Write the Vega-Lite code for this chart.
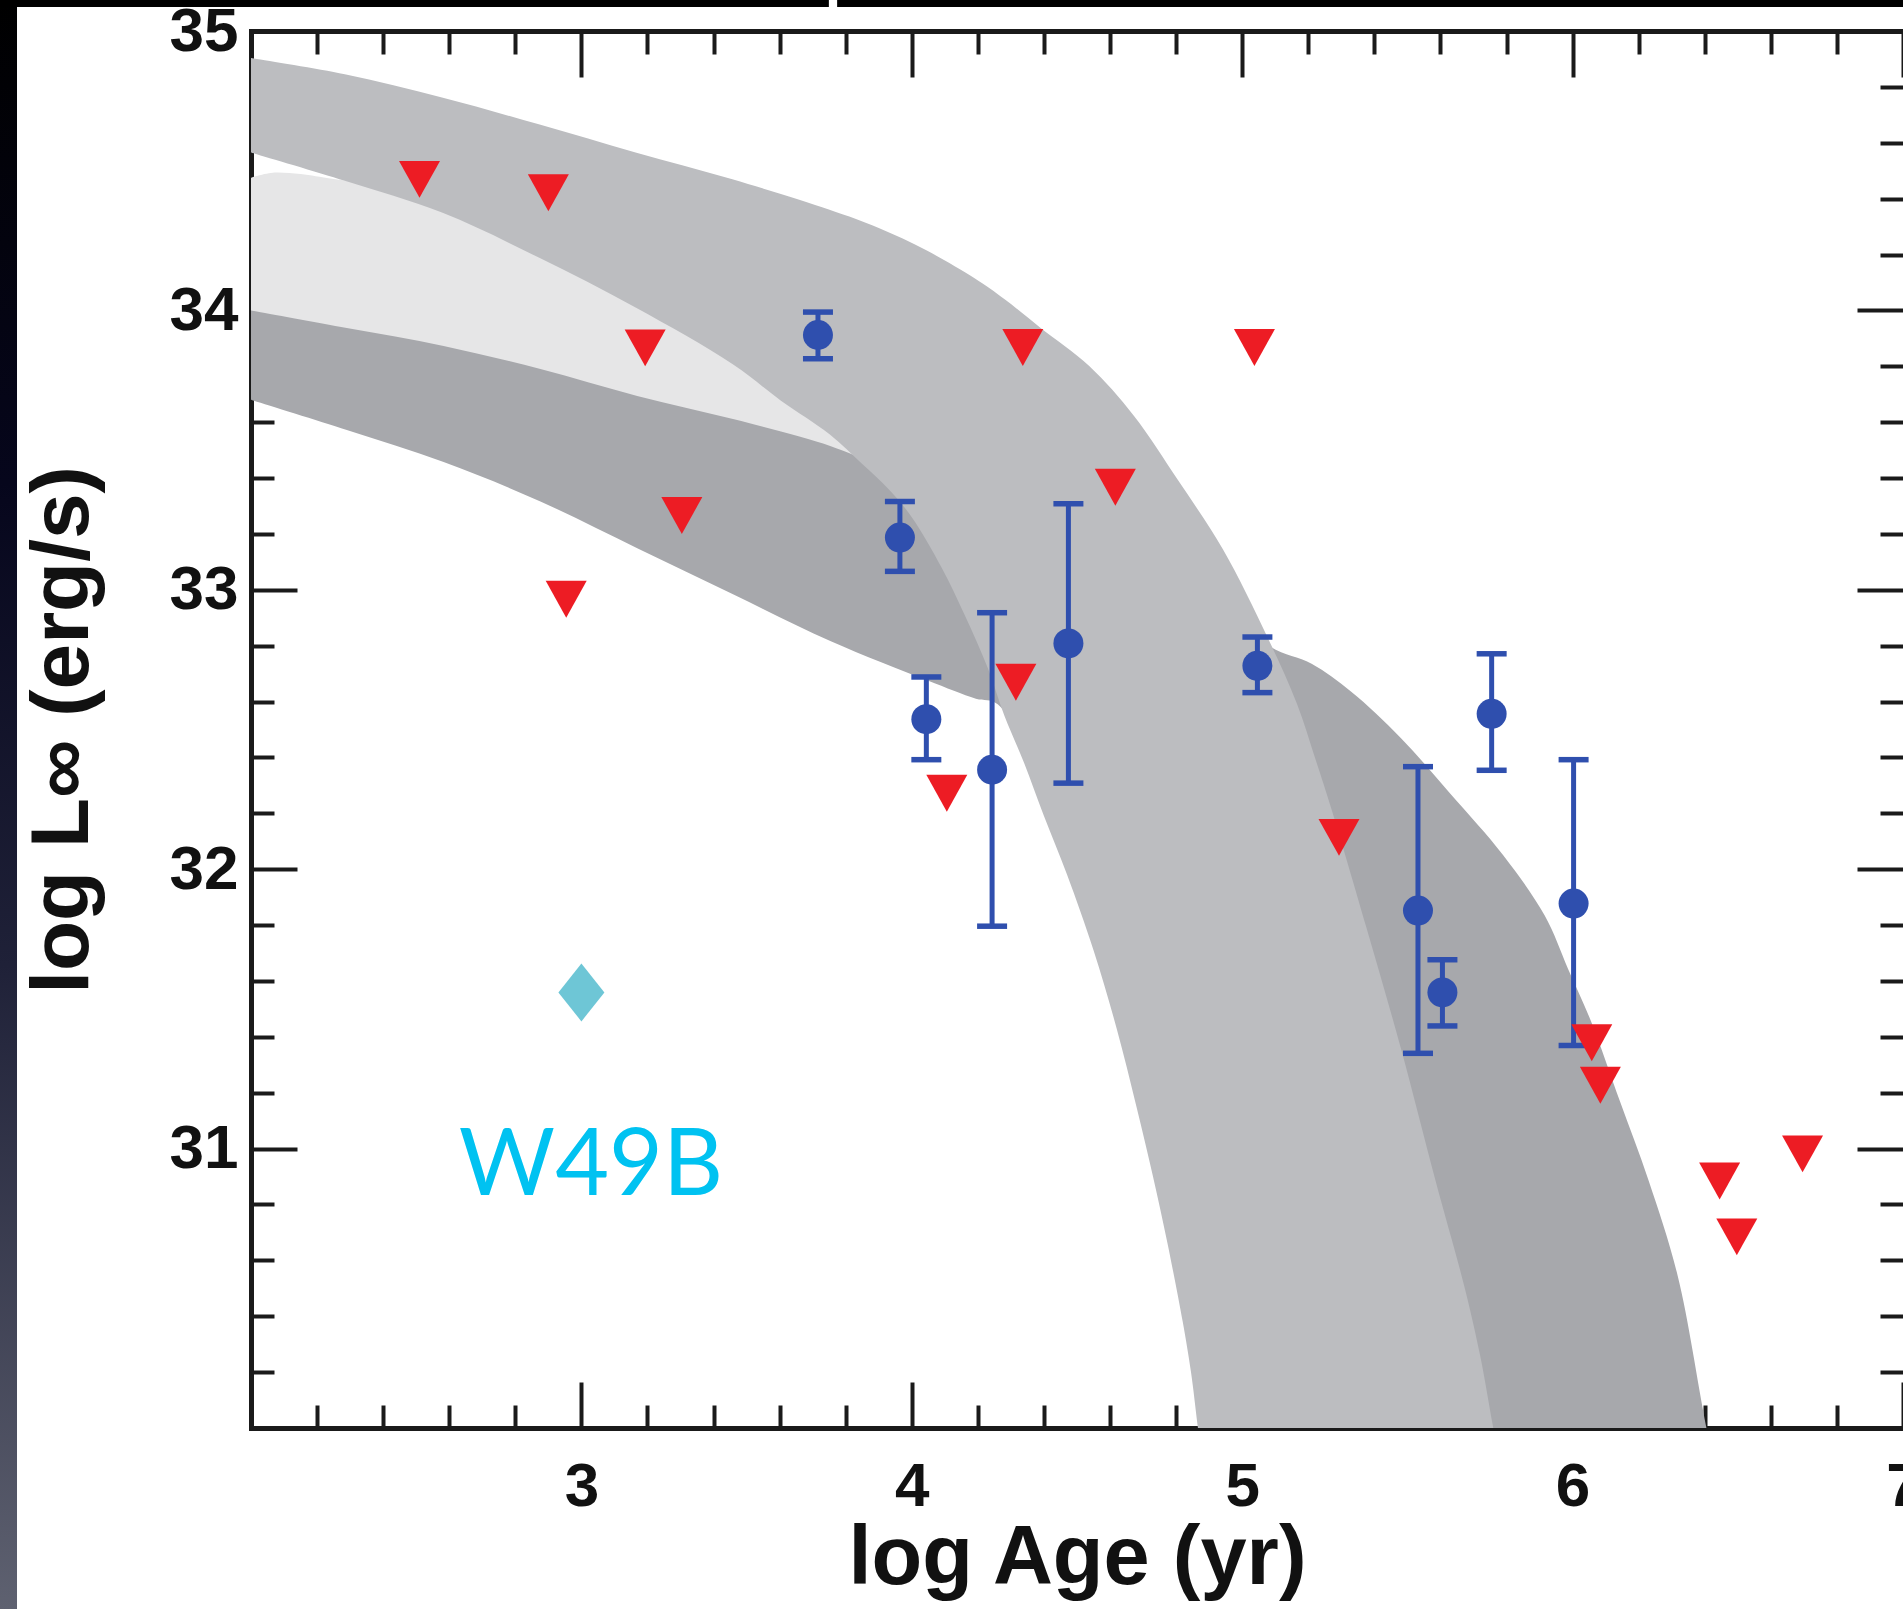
{
  "$schema": "https://vega.github.io/schema/vega-lite/v6.json",
  "width": 1652,
  "height": 1397,
  "autosize": "none",
  "padding": {"left": 251, "top": 31, "right": 0, "bottom": 181},
  "background": "white",
  "config": {
    "view": {"stroke": null},
    "axis": {
      "labelFont": "Liberation Sans", "labelFontWeight": "bold", "labelFontSize": 62, "labelColor": "#111111",
      "titleFont": "Liberation Sans", "titleFontWeight": "bold", "titleFontSize": 82, "titleColor": "#111111",
      "domainColor": "#1a1a1a", "domainWidth": 5, "domainCap": "square",
      "tickColor": "#1a1a1a", "tickWidth": 4, "grid": false,
      "labelFlush": false, "labelOverlap": false, "zindex": 1
    }
  },
  "datasets": {
    "light": [
      {"i": 0, "x": 2.0, "y": 34.475}, {"i": 1, "x": 2.06, "y": 34.492}, {"i": 2, "x": 2.15, "y": 34.488},
      {"i": 3, "x": 2.25, "y": 34.47}, {"i": 4, "x": 2.6, "y": 34.42}, {"i": 5, "x": 3.5, "y": 34.0},
      {"i": 6, "x": 4.0, "y": 33.6}, {"i": 7, "x": 4.1, "y": 33.2}, {"i": 8, "x": 3.95, "y": 33.0},
      {"i": 9, "x": 3.0, "y": 33.5}, {"i": 10, "x": 2.0, "y": 33.85}
    ],
    "dark": [
      {"i": 0, "x": 2.0, "y": 34.0}, {"i": 1, "x": 2.29, "y": 33.937}, {"i": 2, "x": 2.583, "y": 33.873},
      {"i": 3, "x": 2.876, "y": 33.79}, {"i": 4, "x": 3.169, "y": 33.694}, {"i": 5, "x": 3.462, "y": 33.61},
      {"i": 6, "x": 3.755, "y": 33.514}, {"i": 7, "x": 3.86, "y": 33.46}, {"i": 8, "x": 3.92, "y": 33.4},
      {"i": 9, "x": 4.3, "y": 33.3}, {"i": 10, "x": 4.8, "y": 33.1}, {"i": 11, "x": 5.08, "y": 32.8},
      {"i": 12, "x": 5.21, "y": 32.735}, {"i": 13, "x": 5.33, "y": 32.635}, {"i": 14, "x": 5.48, "y": 32.47},
      {"i": 15, "x": 5.63, "y": 32.27}, {"i": 16, "x": 5.79, "y": 32.05}, {"i": 17, "x": 5.916, "y": 31.833},
      {"i": 18, "x": 5.986, "y": 31.644}, {"i": 19, "x": 6.056, "y": 31.455}, {"i": 20, "x": 6.143, "y": 31.17},
      {"i": 21, "x": 6.23, "y": 30.886}, {"i": 22, "x": 6.318, "y": 30.545}, {"i": 23, "x": 6.405, "y": 30.0},
      {"i": 24, "x": 6.49, "y": 29.5}, {"i": 25, "x": 5.35, "y": 29.5}, {"i": 26, "x": 5.1, "y": 30.5},
      {"i": 27, "x": 4.7, "y": 31.5}, {"i": 28, "x": 4.45, "y": 32.15}, {"i": 29, "x": 4.26, "y": 32.59},
      {"i": 30, "x": 4.194, "y": 32.61}, {"i": 31, "x": 4.048, "y": 32.675}, {"i": 32, "x": 3.755, "y": 32.816},
      {"i": 33, "x": 3.462, "y": 32.982}, {"i": 34, "x": 3.169, "y": 33.149}, {"i": 35, "x": 2.876, "y": 33.316},
      {"i": 36, "x": 2.583, "y": 33.457}, {"i": 37, "x": 2.29, "y": 33.572}, {"i": 38, "x": 2.0, "y": 33.68}
    ],
    "medium": [
      {"i": 0, "x": 2.0, "y": 34.903}, {"i": 1, "x": 2.284, "y": 34.845}, {"i": 2, "x": 2.578, "y": 34.762},
      {"i": 3, "x": 2.871, "y": 34.666}, {"i": 4, "x": 3.164, "y": 34.565}, {"i": 5, "x": 3.457, "y": 34.469},
      {"i": 6, "x": 3.751, "y": 34.36}, {"i": 7, "x": 3.9, "y": 34.295}, {"i": 8, "x": 4.044, "y": 34.215},
      {"i": 9, "x": 4.19, "y": 34.115}, {"i": 10, "x": 4.281, "y": 34.04}, {"i": 11, "x": 4.389, "y": 33.938},
      {"i": 12, "x": 4.537, "y": 33.801}, {"i": 13, "x": 4.672, "y": 33.623}, {"i": 14, "x": 4.807, "y": 33.39},
      {"i": 15, "x": 4.942, "y": 33.144}, {"i": 16, "x": 5.077, "y": 32.829}, {"i": 17, "x": 5.166, "y": 32.591},
      {"i": 18, "x": 5.22, "y": 32.4}, {"i": 19, "x": 5.271, "y": 32.212}, {"i": 20, "x": 5.375, "y": 31.795},
      {"i": 21, "x": 5.48, "y": 31.36}, {"i": 22, "x": 5.585, "y": 30.886}, {"i": 23, "x": 5.672, "y": 30.508},
      {"i": 24, "x": 5.72, "y": 30.26}, {"i": 25, "x": 5.76, "y": 30.0}, {"i": 26, "x": 5.84, "y": 29.5},
      {"i": 27, "x": 4.92, "y": 29.5}, {"i": 28, "x": 4.866, "y": 30.0}, {"i": 29, "x": 4.845, "y": 30.2},
      {"i": 30, "x": 4.82, "y": 30.38}, {"i": 31, "x": 4.774, "y": 30.66}, {"i": 32, "x": 4.73, "y": 30.9},
      {"i": 33, "x": 4.68, "y": 31.15}, {"i": 34, "x": 4.62, "y": 31.43}, {"i": 35, "x": 4.55, "y": 31.71},
      {"i": 36, "x": 4.47, "y": 31.98}, {"i": 37, "x": 4.4, "y": 32.19}, {"i": 38, "x": 4.34, "y": 32.38},
      {"i": 39, "x": 4.28, "y": 32.55}, {"i": 40, "x": 4.23, "y": 32.72}, {"i": 41, "x": 4.16, "y": 32.91},
      {"i": 42, "x": 4.09, "y": 33.08}, {"i": 43, "x": 4.0, "y": 33.26}, {"i": 44, "x": 3.93, "y": 33.36},
      {"i": 45, "x": 3.85, "y": 33.45}, {"i": 46, "x": 3.751, "y": 33.557}, {"i": 47, "x": 3.604, "y": 33.677},
      {"i": 48, "x": 3.457, "y": 33.808}, {"i": 49, "x": 3.164, "y": 34.01}, {"i": 50, "x": 2.871, "y": 34.189},
      {"i": 51, "x": 2.578, "y": 34.35}, {"i": 52, "x": 2.284, "y": 34.464}, {"i": 53, "x": 2.0, "y": 34.565}
    ],
    "detections": [
      {"x": 3.716, "y": 33.912, "lo": 33.827, "hi": 33.994},
      {"x": 3.964, "y": 33.187, "lo": 33.066, "hi": 33.316},
      {"x": 4.044, "y": 32.537, "lo": 32.392, "hi": 32.688},
      {"x": 4.243, "y": 32.356, "lo": 31.796, "hi": 32.918},
      {"x": 4.474, "y": 32.808, "lo": 32.308, "hi": 33.308},
      {"x": 5.046, "y": 32.728, "lo": 32.632, "hi": 32.831},
      {"x": 5.532, "y": 31.852, "lo": 31.341, "hi": 32.367},
      {"x": 5.606, "y": 31.559, "lo": 31.439, "hi": 31.676},
      {"x": 5.755, "y": 32.556, "lo": 32.354, "hi": 32.771},
      {"x": 6.003, "y": 31.877, "lo": 31.369, "hi": 32.392}
    ],
    "limits": [
      {"x": 2.51, "y": 34.469}, {"x": 2.9, "y": 34.421}, {"x": 3.193, "y": 33.866}, {"x": 3.304, "y": 33.266},
      {"x": 2.954, "y": 32.966}, {"x": 4.336, "y": 33.867}, {"x": 4.616, "y": 33.367}, {"x": 5.037, "y": 33.867},
      {"x": 4.315, "y": 32.669}, {"x": 4.106, "y": 32.272}, {"x": 5.293, "y": 32.114}, {"x": 6.058, "y": 31.379},
      {"x": 6.084, "y": 31.227}, {"x": 6.445, "y": 30.884}, {"x": 6.696, "y": 30.981}, {"x": 6.497, "y": 30.684}
    ],
    "w49b": [{"x": 3.0, "y": 31.559, "label": "W49B", "lx": 3.029, "ly": 30.833}],
    "strip": [{"x": 1.2403, "x2": 1.2918, "y": 35.111, "y2": 29.352}],
    "topbar": [
      {"x": 1.2403, "x2": 3.749, "y": 35.111, "y2": 35.086},
      {"x": 3.774, "x2": 7.0, "y": 35.111, "y2": 35.086}
    ]
  },
  "layer": [
    {
      "data": {"name": "light"},
      "mark": {"type": "line", "interpolate": "catmull-rom", "fill": "#e6e6e7", "stroke": "#e6e6e7", "strokeWidth": 0, "clip": true},
      "encoding": {
        "x": {"field": "x", "type": "quantitative", "scale": {"domain": [2, 7], "nice": false, "zero": false},
          "axis": {"orient": "bottom", "values": [3, 4, 5, 6, 7], "ticks": false, "tickSize": 0, "labelPadding": 28,
            "domain": true, "title": "log Age (yr)", "titlePadding": 66, "titleFontSize": 83, "titleBaseline": "alphabetic"}},
        "y": {"field": "y", "type": "quantitative", "scale": {"domain": [30, 35], "nice": false, "zero": false},
          "axis": {"orient": "left", "values": [31, 32, 33, 34, 35], "ticks": false, "tickSize": 0, "labelPadding": 13,
            "domain": true, "title": "log L∞ (erg/s)", "titlePadding": 82, "titleBaseline": "alphabetic"}},
        "order": {"field": "i", "type": "quantitative"}
      }
    },
    {
      "data": {"name": "dark"},
      "mark": {"type": "line", "interpolate": "catmull-rom", "fill": "#a7a8ac", "stroke": "#a7a8ac", "strokeWidth": 0, "clip": true},
      "encoding": {
        "x": {"field": "x", "type": "quantitative", "scale": {"domain": [2, 7], "nice": false, "zero": false},
          "axis": {"orient": "bottom", "values": [2, 3, 4, 5, 6, 7], "labels": false, "domain": false, "tickSize": -46, "title": null}},
        "y": {"field": "y", "type": "quantitative", "scale": {"domain": [30, 35], "nice": false, "zero": false},
          "axis": {"orient": "left", "values": [30, 31, 32, 33, 34, 35], "labels": false, "domain": false, "tickSize": -46, "title": null}},
        "order": {"field": "i", "type": "quantitative"}
      }
    },
    {
      "data": {"name": "medium"},
      "mark": {"type": "line", "interpolate": "catmull-rom", "fill": "#bcbdc0", "stroke": "#bcbdc0", "strokeWidth": 0, "clip": true},
      "encoding": {
        "x": {"field": "x", "type": "quantitative", "scale": {"domain": [2, 7], "nice": false, "zero": false},
          "axis": {"orient": "bottom", "values": [2.2, 2.4, 2.6, 2.8, 3.2, 3.4, 3.6, 3.8, 4.2, 4.4, 4.6, 4.8, 5.2, 5.4, 5.6, 5.8, 6.2, 6.4, 6.6, 6.8],
            "labels": false, "domain": false, "tickSize": -23, "title": null}},
        "y": {"field": "y", "type": "quantitative", "scale": {"domain": [30, 35], "nice": false, "zero": false},
          "axis": {"orient": "left", "values": [30.2, 30.4, 30.6, 30.8, 31.2, 31.4, 31.6, 31.8, 32.2, 32.4, 32.6, 32.8, 33.2, 33.4, 33.6, 33.8, 34.2, 34.4, 34.6, 34.8],
            "labels": false, "domain": false, "tickSize": -23, "title": null}},
        "order": {"field": "i", "type": "quantitative"}
      }
    },
    {
      "data": {"name": "detections"},
      "mark": {"type": "rule", "color": "#2f4fae", "strokeWidth": 5, "opacity": 1},
      "encoding": {
        "x": {"field": "x", "type": "quantitative", "scale": {"domain": [2, 7], "nice": false, "zero": false},
          "axis": {"orient": "top", "values": [2, 3, 4, 5, 6, 7], "labels": false, "domain": true, "tickSize": -46, "title": null}},
        "y": {"field": "lo", "type": "quantitative", "scale": {"domain": [30, 35], "nice": false, "zero": false},
          "axis": {"orient": "right", "values": [30, 31, 32, 33, 34, 35], "labels": false, "domain": false, "tickSize": -46, "title": null}},
        "y2": {"field": "hi"}
      }
    },
    {
      "data": {"name": "detections"},
      "transform": [{"fold": ["lo", "hi"], "as": ["end", "v"]}],
      "mark": {"type": "tick", "orient": "horizontal", "color": "#2f4fae", "size": 30, "thickness": 5.5, "opacity": 1},
      "encoding": {
        "x": {"field": "x", "type": "quantitative", "scale": {"domain": [2, 7], "nice": false, "zero": false},
          "axis": {"orient": "top", "values": [2.2, 2.4, 2.6, 2.8, 3.2, 3.4, 3.6, 3.8, 4.2, 4.4, 4.6, 4.8, 5.2, 5.4, 5.6, 5.8, 6.2, 6.4, 6.6, 6.8],
            "labels": false, "domain": false, "tickSize": -23, "title": null}},
        "y": {"field": "v", "type": "quantitative", "scale": {"domain": [30, 35], "nice": false, "zero": false},
          "axis": {"orient": "right", "values": [30.2, 30.4, 30.6, 30.8, 31.2, 31.4, 31.6, 31.8, 32.2, 32.4, 32.6, 32.8, 33.2, 33.4, 33.6, 33.8, 34.2, 34.4, 34.6, 34.8],
            "labels": false, "domain": false, "tickSize": -23, "title": null}}
      }
    },
    {
      "data": {"name": "detections"},
      "mark": {"type": "point", "shape": "circle", "filled": true, "color": "#2f4fae", "size": 900, "opacity": 1, "strokeWidth": 0},
      "encoding": {
        "x": {"field": "x", "type": "quantitative", "axis": null},
        "y": {"field": "y", "type": "quantitative", "axis": null}
      }
    },
    {
      "data": {"name": "limits"},
      "mark": {"type": "point", "shape": "M-1,-0.9L1,-0.9L0,0.9Z", "filled": true, "color": "#ed1c24", "size": 1681, "opacity": 1, "strokeWidth": 0},
      "encoding": {
        "x": {"field": "x", "type": "quantitative", "axis": null},
        "y": {"field": "y", "type": "quantitative", "axis": null}
      }
    },
    {
      "data": {"name": "w49b"},
      "mark": {"type": "point", "shape": "M0,-1.26L1,0L0,1.26L-1,0Z", "filled": true, "color": "#6ec6d6", "size": 2116, "opacity": 1, "strokeWidth": 0},
      "encoding": {
        "x": {"field": "x", "type": "quantitative", "axis": null},
        "y": {"field": "y", "type": "quantitative", "axis": null}
      }
    },
    {
      "data": {"name": "w49b"},
      "mark": {"type": "text", "font": "Lato", "fontSize": 93, "fontWeight": "normal", "color": "#00c2f1", "align": "center", "baseline": "alphabetic"},
      "encoding": {
        "x": {"field": "lx", "type": "quantitative", "axis": null},
        "y": {"field": "ly", "type": "quantitative", "axis": null},
        "text": {"field": "label"}
      }
    },
    {
      "data": {"name": "strip"},
      "mark": {"type": "rect", "clip": false,
        "color": {"gradient": "linear", "x1": 0, "y1": 0, "x2": 0, "y2": 1,
          "stops": [{"offset": 0, "color": "#000000"}, {"offset": 0.3, "color": "#06061c"}, {"offset": 0.6, "color": "#1f2138"}, {"offset": 1, "color": "#5e6170"}]}},
      "encoding": {
        "x": {"field": "x", "type": "quantitative", "axis": null},
        "x2": {"field": "x2"},
        "y": {"field": "y", "type": "quantitative", "axis": null},
        "y2": {"field": "y2"}
      }
    },
    {
      "data": {"name": "topbar"},
      "mark": {"type": "rect", "clip": false, "color": "#000000"},
      "encoding": {
        "x": {"field": "x", "type": "quantitative", "axis": null},
        "x2": {"field": "x2"},
        "y": {"field": "y", "type": "quantitative", "axis": null},
        "y2": {"field": "y2"}
      }
    }
  ],
  "resolve": {"axis": {"x": "independent", "y": "independent"}}
}
